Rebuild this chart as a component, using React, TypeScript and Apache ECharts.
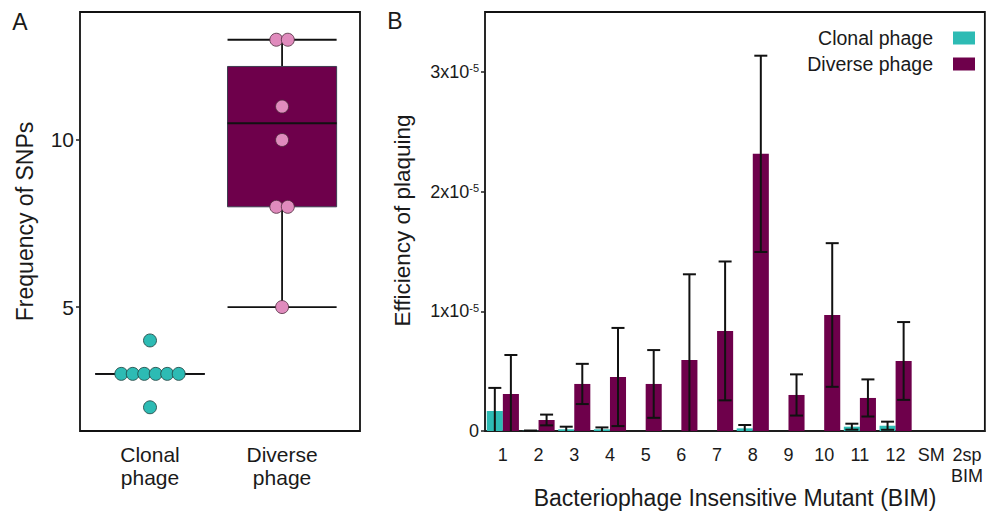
import React, { useEffect, useRef } from "react";
import * as echarts from "echarts";

// ---------- Data ----------
const snpGroups = ["Clonal\nphage", "Diverse\nphage"];
const clonalSnps = [2, 3, 3, 3, 3, 3, 3, 4];
const diverseSnps = [5, 8, 8, 10, 11, 13, 13];
// [min, q1, median, q3, max]
const clonalBox = [3, 3, 3, 3, 3];
const diverseBox = [5, 8, 10.5, 12.2, 13];
const snpTicks = [5, 10];

const bimCategories = ["1", "2", "3", "4", "5", "6", "7", "8", "9", "10", "11", "12", "SM", "2sp\nBIM"];
const clonalEop = [1.67e-6, 2e-8, 1.4e-7, 1.4e-7, null, null, null, 2.2e-7, null, null, 3.6e-7, 4.4e-7, null, null];
const clonalErr = [1.93e-6, 2e-8, 2.2e-7, 1.6e-7, null, null, null, 2.8e-7, null, null, 2.5e-7, 3.4e-7, null, null];
const diverseEop = [3.1e-6, 9.2e-7, 3.93e-6, 4.51e-6, 3.93e-6, 5.93e-6, 8.36e-6, 2.315e-5, 3.01e-6, 9.69e-6, 2.76e-6, 5.85e-6, null, null];
const diverseErr = [3.25e-6, 4.5e-7, 1.68e-6, 4.1e-6, 2.83e-6, 7.16e-6, 5.8e-6, 8.2e-6, 1.72e-6, 6.0e-6, 1.55e-6, 3.25e-6, null, null];
const eopTicks = [0, 1e-5, 2e-5, 3e-5];

// ---------- Style ----------
const FONT = "Liberation Sans, Arial, Helvetica, sans-serif";
const TEXT = "#1a1a1a";
const TEAL = "#2dbbb4";
const PURPLE = "#6e004b";
const PINK = "#e08bbd";
const BAR_FRAC = 0.45;
const DOT_STEP = 0.087;
const BOX_WIDTH = 0.826;

function dotPositions(values: number[], center: number) {
  const counts: Record<string, number> = {};
  values.forEach((v) => (counts[v] = (counts[v] || 0) + 1));
  const seen: Record<string, number> = {};
  return values.map((v) => {
    const n = counts[v];
    const k = seen[v] || 0;
    seen[v] = k + 1;
    return [center + (k - (n - 1) / 2) * DOT_STEP, v];
  });
}

function errData(vals: (number | null)[], errs: (number | null)[]) {
  const out: number[][] = [];
  vals.forEach((v, i) => {
    if (v != null && errs[i] != null) out.push([i, v, errs[i] as number]);
  });
  return out;
}

function makeErrRender(sign: number) {
  return (params: any, api: any) => {
    const cat = api.value(0);
    const v = api.value(1);
    const e = api.value(2);
    const band = api.size([1, 0])[0];
    const off = (sign * band * BAR_FRAC) / 2;
    const x = api.coord([cat, v])[0] + off;
    const yTop = api.coord([cat, v + e])[1];
    const lo = Math.max(0, v - e);
    const yLo = api.coord([cat, lo])[1];
    const st = { stroke: "#111", lineWidth: 2 };
    const children: any[] = [
      { type: "line", shape: { x1: x, y1: yTop, x2: x, y2: yLo }, style: st },
      { type: "line", shape: { x1: x - 6.5, y1: yTop, x2: x + 6.5, y2: yTop }, style: st },
    ];
    if (lo > 0) {
      children.push({ type: "line", shape: { x1: x - 6.5, y1: yLo, x2: x + 6.5, y2: yLo }, style: st });
    }
    return { type: "group", children };
  };
}

function boxRender(params: any, api: any) {
  const xv = api.value(0);
  const mn = api.value(1), q1 = api.value(2), md = api.value(3), q3 = api.value(4), mx = api.value(5);
  const cx = api.coord([xv, md])[0];
  const hw = api.size([BOX_WIDTH, 0])[0] / 2;
  const y = (v: number) => api.coord([xv, v])[1];
  const st = { stroke: "#111", lineWidth: 1.8 };
  return {
    type: "group",
    children: [
      { type: "line", shape: { x1: cx, y1: y(mn), x2: cx, y2: y(q1) }, style: st },
      { type: "line", shape: { x1: cx, y1: y(q3), x2: cx, y2: y(mx) }, style: st },
      { type: "line", shape: { x1: cx - hw, y1: y(mn), x2: cx + hw, y2: y(mn) }, style: st },
      { type: "line", shape: { x1: cx - hw, y1: y(mx), x2: cx + hw, y2: y(mx) }, style: st },
      {
        type: "rect",
        shape: { x: cx - hw, y: y(q3), width: hw * 2, height: y(q1) - y(q3) },
        style: { fill: PURPLE, stroke: "#3d3d50", lineWidth: 1 },
      },
      { type: "line", shape: { x1: cx - hw, y1: y(md), x2: cx + hw, y2: y(md) }, style: st },
    ],
  };
}

function gtext(text: string, x: number, y: number, size: number, rot = 0) {
  return {
    type: "text",
    x,
    y,
    rotation: rot,
    style: {
      text,
      fill: TEXT,
      font: `${size}px ${FONT}`,
      textAlign: "center",
      textVerticalAlign: "middle",
      align: "center",
      verticalAlign: "middle",
    },
  };
}

export default function App() {
  const ref = useRef<HTMLDivElement>(null);
  useEffect(() => {
    document.body.style.margin = "0";
    const chart = echarts.init(ref.current as HTMLDivElement, null, { renderer: "svg" });
    const option: any = {
      animation: false,
      textStyle: { fontFamily: FONT },
      grid: [
        { left: 80, top: 12, width: 280, height: 419, show: true, borderColor: "#111", borderWidth: 1.8, backgroundColor: "transparent" },
        { left: 485, top: 12, width: 500, height: 419, show: true, borderColor: "#111", borderWidth: 1.8, backgroundColor: "transparent" },
      ],
      legend: {
        data: ["Clonal phage", "Diverse phage"],
        orient: "vertical",
        right: 6,
        top: 23,
        align: "right",
        itemWidth: 22,
        itemHeight: 13,
        itemGap: 6,
        icon: "rect",
        textStyle: { fontSize: 19.5, color: TEXT, fontFamily: FONT, padding: [0, 15, 0, 0] },
      },
      xAxis: [
        {
          type: "value",
          gridIndex: 0,
          min: 0.47,
          max: 2.59,
          splitLine: { show: false },
          axisLine: { show: false },
          axisTick: { show: false },
          axisLabel: {
            customValues: [1, 2],
            formatter: (v: number) => snpGroups[Math.round(v) - 1] || "",
            fontSize: 21,
            lineHeight: 23,
            color: TEXT,
            margin: 12,
          },
        },
        {
          type: "category",
          gridIndex: 1,
          data: bimCategories,
          axisLine: { show: true, lineStyle: { color: "#222", width: 1.5 } },
          axisTick: { show: false },
          axisLabel: { interval: 0, fontSize: 18, lineHeight: 21, color: TEXT, margin: 13 },
        },
      ],
      yAxis: [
        {
          type: "value",
          gridIndex: 0,
          min: 1.29,
          max: 13.83,
          splitLine: { show: false },
          axisLine: { show: false },
          axisTick: { show: true, length: 4, customValues: snpTicks, lineStyle: { color: "#222", width: 1.5 } },
          axisLabel: { customValues: snpTicks, fontSize: 21, color: TEXT, margin: 6 },
        },
        {
          type: "value",
          gridIndex: 1,
          min: 0,
          max: 3.5e-5,
          splitLine: { show: false },
          axisLine: { show: false },
          axisTick: { show: true, length: 4, customValues: eopTicks, lineStyle: { color: "#222", width: 1.5 } },
          axisLabel: {
            customValues: eopTicks,
            margin: 6,
            color: TEXT,
            fontSize: 18,
            formatter: (v: number) => (v === 0 ? "0" : `{b|${Math.round(v / 1e-5)}x10}{s|-5}`),
            rich: {
              b: { fontSize: 18, color: TEXT, fontFamily: FONT },
              s: { fontSize: 11, color: TEXT, fontFamily: FONT, verticalAlign: "top", lineHeight: 10 },
            },
          },
        },
      ],
      series: [
        {
          type: "custom",
          name: "box",
          xAxisIndex: 0,
          yAxisIndex: 0,
          z: 2,
          renderItem: boxRender,
          data: [
            [1, ...clonalBox],
            [2, ...diverseBox],
          ],
        },
        {
          type: "scatter",
          name: "clonalDots",
          xAxisIndex: 0,
          yAxisIndex: 0,
          z: 3,
          symbolSize: 13,
          itemStyle: { color: TEAL, borderColor: "#1f3d3b", borderWidth: 0.8, opacity: 1 },
          data: dotPositions(clonalSnps, 1),
        },
        {
          type: "scatter",
          name: "diverseDots",
          xAxisIndex: 0,
          yAxisIndex: 0,
          z: 3,
          symbolSize: 13,
          itemStyle: { color: PINK, borderColor: "#4a2a3a", borderWidth: 0.8, opacity: 1 },
          data: dotPositions(diverseSnps, 2),
        },
        {
          type: "bar",
          name: "Clonal phage",
          xAxisIndex: 1,
          yAxisIndex: 1,
          barWidth: `${BAR_FRAC * 100}%`,
          barGap: "0%",
          itemStyle: { color: TEAL },
          data: clonalEop,
        },
        {
          type: "bar",
          name: "Diverse phage",
          xAxisIndex: 1,
          yAxisIndex: 1,
          barWidth: `${BAR_FRAC * 100}%`,
          barGap: "0%",
          itemStyle: { color: PURPLE },
          data: diverseEop,
        },
        {
          type: "custom",
          name: "clonalErr",
          xAxisIndex: 1,
          yAxisIndex: 1,
          z: 5,
          renderItem: makeErrRender(-1),
          data: errData(clonalEop, clonalErr),
        },
        {
          type: "custom",
          name: "diverseErr",
          xAxisIndex: 1,
          yAxisIndex: 1,
          z: 5,
          renderItem: makeErrRender(1),
          data: errData(diverseEop, diverseErr),
        },
      ],
      graphic: [
        gtext("A", 20, 22, 23),
        gtext("B", 395, 21, 23),
        gtext("Frequency of SNPs", 25, 221.5, 23, Math.PI / 2),
        gtext("Efficiency of plaquing", 402.5, 220.5, 22.5, Math.PI / 2),
        gtext("Bacteriophage Insensitive Mutant (BIM)", 735, 498, 23),
      ],
    };
    chart.setOption(option);
    return () => chart.dispose();
  }, []);
  return <div ref={ref} style={{ width: 986, height: 511 }} />;
}
